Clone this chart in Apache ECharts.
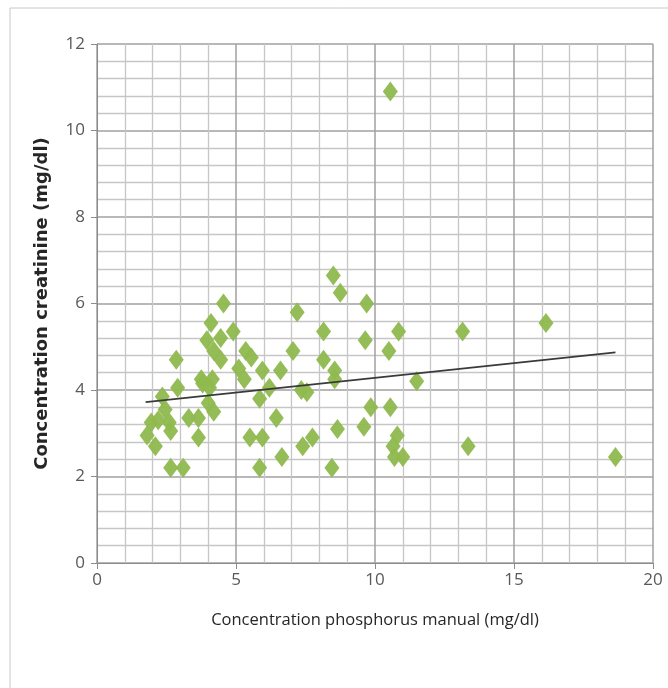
<!DOCTYPE html>
<html>
<head>
<meta charset="utf-8">
<style>
  html, body { margin: 0; padding: 0; background: #ffffff; }
  #chart { width: 668px; height: 688px; }
</style>
<script src="https://cdn.jsdelivr.net/npm/echarts@6/dist/echarts.min.js"></script>
</head>
<body>
<div id="chart"></div>
<script>
// Phosphorus (manual method) vs creatinine, mg/dl
const phosphorus = [
  10.55, 8.5, 8.75, 9.7, 4.55, 7.2, 4.1, 4.9, 8.15, 10.85,
  13.15, 16.15, 9.65, 3.95, 4.45, 4.2, 4.45, 2.85, 10.5, 7.05,
  5.35, 5.55, 8.15, 5.1, 5.3, 5.95, 6.6, 8.55, 8.55, 3.75,
  4.15, 11.5, 2.9, 3.8, 4.05, 6.2, 7.35, 7.55, 5.85, 2.35,
  4.0, 4.2, 2.45, 9.85, 10.55, 3.3, 3.65, 6.45, 1.95, 2.6,
  2.2, 2.65, 1.8, 2.1, 3.65, 5.5, 5.95, 7.75, 8.65, 9.6,
  10.8, 10.65, 13.35, 7.4, 6.65, 10.7, 11.0, 18.65, 2.65, 3.1,
  5.85, 8.45
];
const creatinine = [
  10.9, 6.65, 6.25, 6.0, 6.0, 5.8, 5.55, 5.35, 5.35, 5.35,
  5.35, 5.55, 5.15, 5.15, 5.2, 4.9, 4.7, 4.7, 4.9, 4.9,
  4.9, 4.75, 4.7, 4.5, 4.25, 4.45, 4.45, 4.45, 4.25, 4.25,
  4.25, 4.2, 4.05, 4.15, 4.05, 4.05, 4.0, 3.95, 3.8, 3.85,
  3.7, 3.5, 3.55, 3.6, 3.6, 3.35, 3.35, 3.35, 3.25, 3.25,
  3.3, 3.05, 2.95, 2.7, 2.9, 2.9, 2.9, 2.9, 3.1, 3.15,
  2.95, 2.7, 2.7, 2.7, 2.45, 2.45, 2.45, 2.45, 2.2, 2.2,
  2.2, 2.2
];
// Linear trend line end points
const trendX = [1.75, 18.65];
const trendY = [3.72, 4.87];

// Axis ticks
const xTicks = [0, 5, 10, 15, 20];
const yTicks = [0, 2, 4, 6, 8, 10, 12];

const points = phosphorus.map((x, i) => [x, creatinine[i]]);
const trend = trendX.map((x, i) => [x, trendY[i]]);

const labelFont = '"Open Sans", sans-serif';
const chart = echarts.init(document.getElementById('chart'), null, { renderer: 'canvas' });

chart.setOption({
  backgroundColor: '#ffffff',
  animation: false,
  graphic: [{
    type: 'rect',
    shape: { x: 10, y: 8, width: 720, height: 720 },
    style: { fill: 'none', stroke: '#c8c8c8', lineWidth: 1 },
    silent: true, z: -10
  }],
  grid: { left: 97, top: 44, width: 556, height: 519 },
  xAxis: {
    type: 'value',
    min: xTicks[0], max: xTicks[xTicks.length - 1], interval: 5,
    name: 'Concentration phosphorus manual (mg/dl)',
    nameLocation: 'middle', nameGap: 49,
    nameTextStyle: { fontFamily: labelFont, fontSize: 16.5, color: '#262626' },
    axisLine: { show: true, lineStyle: { color: '#8c8c8c', width: 1 } },
    axisTick: { show: true, length: 6, lineStyle: { color: '#8c8c8c' } },
    axisLabel: { fontFamily: labelFont, fontSize: 17, color: '#595959', margin: 9 },
    splitLine: { show: true, lineStyle: { color: '#a0a0a0', width: 1.5 } },
    minorTick: { show: false, splitNumber: 5 },
    minorSplitLine: { show: true, lineStyle: { color: '#c6c6c6', width: 1.3 } }
  },
  yAxis: {
    type: 'value',
    min: yTicks[0], max: yTicks[yTicks.length - 1], interval: 2,
    name: 'Concentration creatinine (mg/dl)',
    nameLocation: 'middle', nameGap: 46,
    nameTextStyle: { fontFamily: '"DejaVu Sans", sans-serif', fontSize: 18, fontWeight: 'bold', color: '#262626' },
    axisLine: { show: true, lineStyle: { color: '#8c8c8c', width: 1 } },
    axisTick: { show: true, length: 6, lineStyle: { color: '#8c8c8c' } },
    axisLabel: { fontFamily: labelFont, fontSize: 17, color: '#595959', margin: 12 },
    splitLine: { show: true, lineStyle: { color: '#a0a0a0', width: 1.5 } },
    minorTick: { show: false, splitNumber: 5 },
    minorSplitLine: { show: true, lineStyle: { color: '#c6c6c6', width: 1.3 } }
  },
  series: [
    {
      type: 'scatter',
      data: points,
      symbol: 'diamond',
      symbolSize: [15, 20],
      itemStyle: { color: '#8fb94e', opacity: 0.95 },
      z: 3
    },
    {
      type: 'line',
      data: trend,
      symbol: 'none',
      lineStyle: { color: '#3a3a3a', width: 1.6 },
      z: 4
    }
  ]
});
</script>
</body>
</html>
